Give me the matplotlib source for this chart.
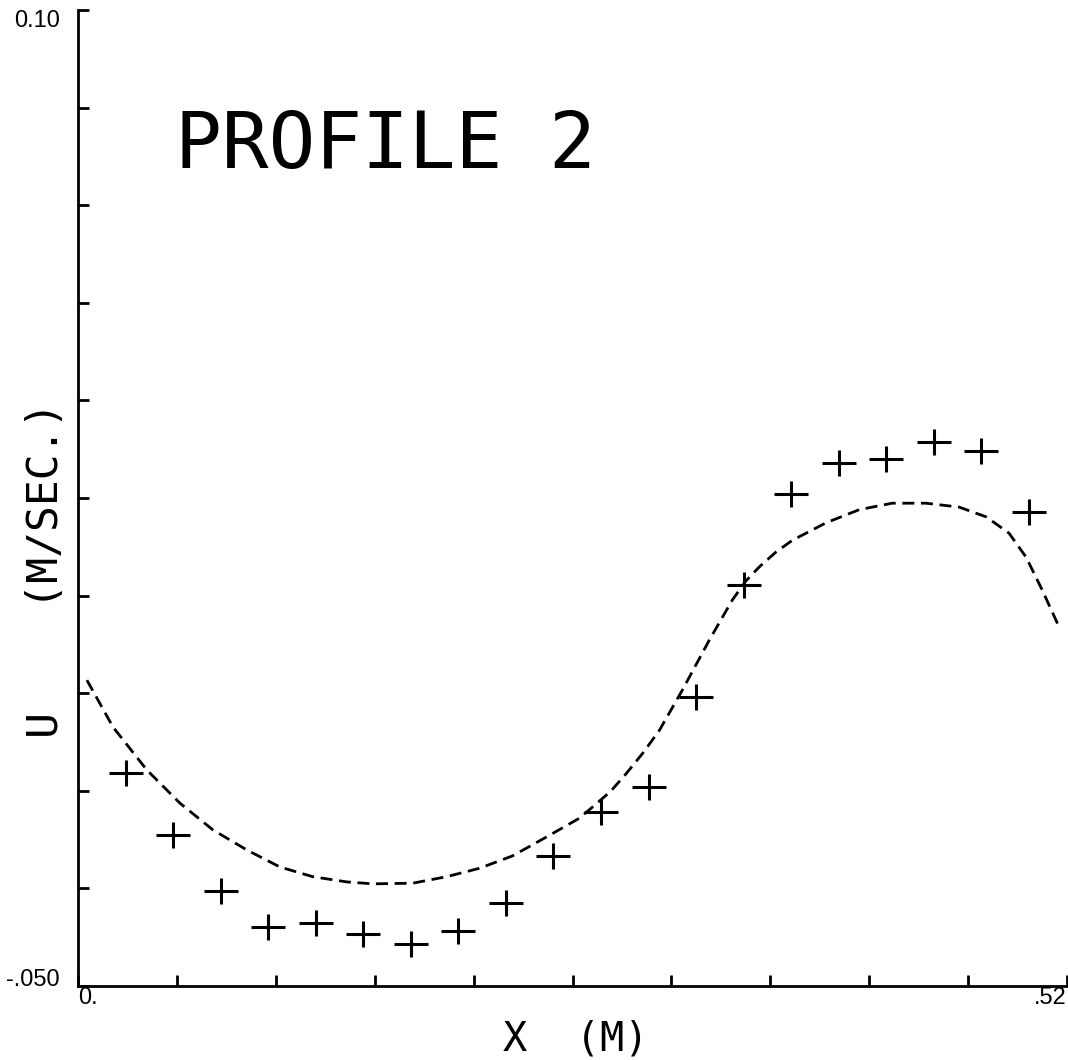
import matplotlib.pyplot as plt
from matplotlib.path import Path

# Measured velocity profile (crosses)
meas_x = [0.025, 0.050, 0.075, 0.100, 0.125, 0.150, 0.175, 0.200, 0.225, 0.250,
          0.275, 0.300, 0.325, 0.350, 0.375, 0.400, 0.425, 0.450, 0.475, 0.500]
meas_y = [-0.0173, -0.0268, -0.0354, -0.0409, -0.0403, -0.0420, -0.0435, -0.0415,
          -0.0372, -0.0300, -0.0233, -0.0194, -0.0056, 0.0116, 0.0256, 0.0304,
          0.0310, 0.0336, 0.0322, 0.0228]

# Computed profile (dashed curve)
curve_x = [0.0047, 0.0184, 0.0362, 0.0536, 0.0709, 0.0888, 0.1061, 0.1234,
           0.1413, 0.1549, 0.1760, 0.1938, 0.2112, 0.2285, 0.2463, 0.2637, 0.2705,
           0.2800, 0.2884, 0.2970, 0.3057, 0.3178, 0.3320, 0.3440, 0.3510, 0.3582,
           0.3670, 0.3756, 0.3934, 0.4107, 0.4281, 0.4459, 0.4633, 0.4775, 0.4895,
           0.4985, 0.5069, 0.5158]
curve_y = [-0.0030, -0.0102, -0.0168, -0.0219, -0.0260, -0.0291, -0.0317,
           -0.0332, -0.0340, -0.0343, -0.0342, -0.0332, -0.0319, -0.0300, -0.0271,
           -0.0242, -0.0225, -0.0201, -0.0173, -0.0142, -0.0107, -0.0045, 0.0032,
           0.0093, 0.0122, 0.0144, 0.0167, 0.0185, 0.0212, 0.0232, 0.0242, 0.0242,
           0.0236, 0.0221, 0.0196, 0.0159, 0.0109, 0.0052]

x_ticks = [0.0, 0.052, 0.104, 0.156, 0.208, 0.26, 0.312, 0.364, 0.416, 0.468, 0.52]
x_tick_labels = ["0.", "", "", "", "", "", "", "", "", "", ".52"]
y_ticks = [-0.05, -0.035, -0.02, -0.005, 0.01, 0.025, 0.04, 0.055, 0.07, 0.085, 0.10]
y_tick_labels = ["-.050", "", "", "", "", "", "", "", "", "", "0.10"]

PLOT_FONT = "DejaVu Sans Mono"
TICK_FONT = "Liberation Sans"

# wide plotter-style cross
cross = Path([(-1.3, 0), (1.3, 0), (0, -1.0), (0, 1.0)],
             [Path.MOVETO, Path.LINETO, Path.MOVETO, Path.LINETO])

fig = plt.figure(figsize=(10.68, 10.60), dpi=100)
ax = fig.add_axes([78 / 1068, 1 - 986 / 1060, 989 / 1068, 976 / 1060])

ax.plot(curve_x, curve_y, color="black", lw=2.0, linestyle=(0, (4.3, 2.4)))
ax.plot(meas_x, meas_y, linestyle="none", marker=cross, markersize=24,
        markeredgewidth=2.2, color="black")

ax.set_xlim(0, 0.52)
ax.set_ylim(-0.05, 0.10)
ax.spines["top"].set_visible(False)
ax.spines["right"].set_visible(False)
for side in ("left", "bottom"):
    ax.spines[side].set_linewidth(2.0)

ax.set_xticks(x_ticks)
ax.set_xticklabels(x_tick_labels, fontfamily=TICK_FONT, fontsize=17)
ax.set_yticks(y_ticks)
ax.set_yticklabels(y_tick_labels, fontfamily=TICK_FONT, fontsize=17)
ax.tick_params(direction="in", length=8, width=2.0)
ax.tick_params(axis="x", pad=1)
ax.tick_params(axis="y", pad=13)

xl = ax.get_xticklabels()
xl[0].set_ha("left")
xl[-1].set_ha("right")
yl = ax.get_yticklabels()
yl[0].set_va("baseline")
yl[-1].set_va("top")

ax.text(0.311, 0.838, "PROFILE 2", transform=ax.transAxes, ha="center",
        va="baseline", fontsize=56, fontfamily=PLOT_FONT)
fig.text(576 / 1068, 1 - 1050 / 1060, "X  (M)", ha="center", va="baseline",
         fontsize=29, fontfamily=PLOT_FONT)
fig.text(46 / 1068, 1 - 570 / 1060, "U    (M/SEC.)", rotation=90, ha="center",
         va="center", fontsize=31, fontfamily=PLOT_FONT)

fig.savefig("out.png", dpi=100)
